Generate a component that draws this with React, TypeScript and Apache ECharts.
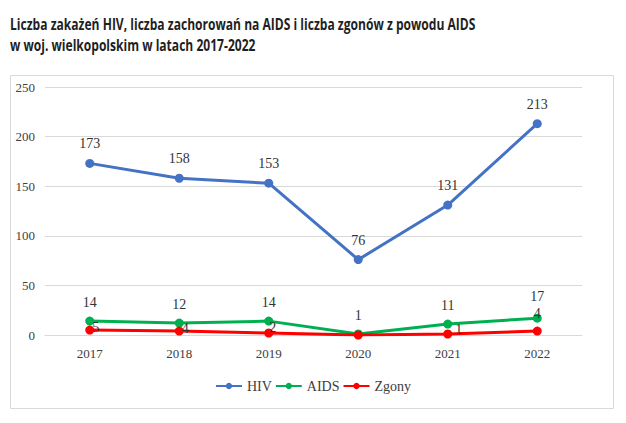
import React, { useEffect, useRef } from "react";
import * as echarts from "echarts";

const years = ["2017", "2018", "2019", "2020", "2021", "2022"];
const hiv = [173, 158, 153, 76, 131, 213];
const aids = [14, 12, 14, 1, 11, 17];
const zgony = [5, 4, 2, 0, 1, 4];
const yTicks = { min: 0, max: 250, interval: 50 };
const titleText =
  "Liczba zakażeń HIV, liczba zachorowań na AIDS i liczba zgonów z powodu AIDS\nw woj. wielkopolskim w latach 2017-2022";

const SERIF = "'Liberation Serif', 'Times New Roman', serif";

export default function App() {
  const ref = useRef<HTMLDivElement>(null);
  useEffect(() => {
    document.body.style.margin = "0";
    const chart = echarts.init(ref.current!, undefined, { renderer: "svg" });
    const labelBase = {
      show: true,
      fontFamily: SERIF,
      fontSize: 14,
      color: "#333333",
    };
    // Zgony label placement tweaks per point
    const zOffsets: any[] = [
      [6, -3],
      [6, -3],
      [4, -6],
      null,
      [11, -5],
      [0, -18],
    ];
    const zData = zgony.map((v, i) => {
      const off = zOffsets[i];
      if (!off) return { value: v, label: { show: false } };
      return { value: v, label: { position: "inside", offset: off } };
    });
    const aData = aids.map((v, i) =>
      i === aids.length - 1 ? { value: v, label: { distance: 10 } } : v
    );
    chart.setOption({
      animation: false,
      backgroundColor: "#ffffff",
      graphic: [
        {
          type: "rect",
          shape: { x: 10.5, y: 75.5, width: 603, height: 333 },
          style: { fill: "#fff", stroke: "#d9d9d9", lineWidth: 1 },
          z: -10,
          silent: true,
        },
        {
          type: "text",
          x: 10,
          y: 13,
          scaleX: 0.755,
          style: {
            text: titleText,
            fontFamily: "'Open Sans', sans-serif",
            fontWeight: 700,
            fontSize: 16,
            lineHeight: 21,
            fill: "#1f1f1f",
            textVerticalAlign: "top",
          },
          silent: true,
        },
      ],
      grid: { left: 45, right: 44, top: 87, bottom: 88 },
      xAxis: {
        type: "category",
        data: years,
        boundaryGap: true,
        axisLine: { lineStyle: { color: "#d9d9d9", width: 1 } },
        axisTick: { show: false },
        axisLabel: { fontFamily: SERIF, fontSize: 13, color: "#404040", margin: 12 },
      },
      yAxis: {
        type: "value",
        min: yTicks.min,
        max: yTicks.max,
        interval: yTicks.interval,
        axisLine: { show: false },
        axisTick: { show: false },
        splitLine: { lineStyle: { color: "#d9d9d9", width: 1 } },
        axisLabel: { fontFamily: SERIF, fontSize: 13, color: "#404040", margin: 10 },
      },
      legend: {
        bottom: 25,
        left: "center",
        itemWidth: 26,
        itemHeight: 8,
        itemGap: 3,
        textStyle: { fontFamily: SERIF, fontSize: 14, color: "#404040" },
        data: ["HIV", "AIDS", "Zgony"],
      },
      series: [
        {
          name: "HIV",
          type: "line",
          data: hiv,
          symbol: "circle",
          symbolSize: 9,
          lineStyle: { width: 3, color: "#4472C4" },
          itemStyle: { color: "#4472C4" },
          label: { ...labelBase, position: "top", distance: 8 },
          z: 2,
        },
        {
          name: "AIDS",
          type: "line",
          data: aData,
          symbol: "circle",
          symbolSize: 9,
          lineStyle: { width: 3, color: "#00B050" },
          itemStyle: { color: "#00B050" },
          label: { ...labelBase, position: "top", distance: 7 },
          z: 3,
        },
        {
          name: "Zgony",
          type: "line",
          data: zData,
          symbol: "circle",
          symbolSize: 9,
          lineStyle: { width: 3, color: "#FF0000" },
          itemStyle: { color: "#FF0000" },
          label: { ...labelBase },
          z: 4,
        },
      ],
    });
    return () => chart.dispose();
  }, []);
  return (
    <div
      ref={ref}
      style={{ position: "absolute", left: 0, top: 0, width: 626, height: 423 }}
    />
  );
}
